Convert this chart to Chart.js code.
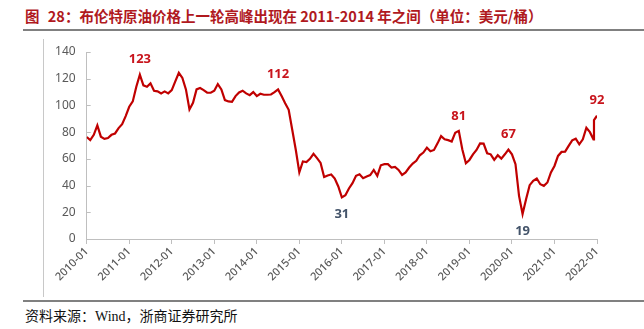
<!DOCTYPE html>
<html>
<head>
<meta charset="utf-8">
<script src="https://cdn.jsdelivr.net/npm/chart.js@4/dist/chart.umd.min.js"></script>
<style>
  body { margin: 0; background: #fff; }
  #wrap { position: relative; width: 644px; height: 329px; overflow: hidden; }
  #title { position: absolute; left: 25px; top: 5px; font: bold 14.5px "Noto Sans CJK SC", sans-serif; color: #b0191e; white-space: nowrap; }
  #title span { margin-right: 5px; }
  .hline { position: absolute; left: 23px; width: 621px; height: 2px; background: #808080; }
  #vline { position: absolute; left: 43px; top: 39px; width: 1px; height: 258px; background: #c8c8c8; }
  #source { position: absolute; left: 25px; top: 305px; font: 14px "Liberation Serif", "Noto Sans CJK SC", serif; color: #111; white-space: nowrap; }
  canvas { position: absolute; left: 0; top: 0; }
</style>
</head>
<body>
<div id="wrap">
  <div id="title"><span>图</span> 28：布伦特原油价格上一轮高峰出现在 2011-2014 年之间（单位：美元/桶）</div>
  <div class="hline" style="top:29px"></div>
  <div id="vline"></div>
  <div class="hline" style="top:300px"></div>
  <div id="source">资料来源：Wind，浙商证券研究所</div>
  <canvas id="brentChart" width="644" height="329"></canvas>
</div>
<script>
// 布伦特原油月度价格，2010-01 到 2022-01
const brentPrices = [
  76.4, 74, 78, 85, 76.6, 75, 75.6, 78, 79, 83, 86, 92,
  99, 103, 114, 123, 115, 114, 116.5, 111, 110.5, 109, 110.5, 109,
  111.5, 118, 124.4, 120.6, 112, 97, 102, 112, 113, 111.5, 109.5, 109.5,
  111, 116, 112, 104, 103, 102.7, 107, 109.7, 111, 109, 107.7, 110,
  107, 108.7, 108, 108, 108.2, 110, 112, 107, 101.7, 96.7, 81.8, 66.8,
  49.9, 58, 57.6, 60, 63.8, 60.6, 57, 46.4, 47.6, 48.3, 45.3, 39.3,
  31.2, 32.8, 37.8, 41.8, 47.3, 48.5, 45.5, 46.8, 47.8, 51.7, 47.3, 55.2,
  56, 56, 53.5, 54, 51.7, 48, 49.8, 53.5, 56.5, 58.5, 62.7, 64.7,
  68.4, 65.7, 66.7, 71.6, 77, 74.6, 74, 73, 79.6, 81, 67, 56.7,
  59.2, 63.4, 66.7, 71.6, 71.4, 64.2, 63.4, 59.2, 62.7, 60.2, 63.4, 67,
  63.4, 56, 32.3, 18.7, 29.9, 40.3, 43.5, 45.3, 41, 39.8, 42.3, 49.8,
  54.7, 62.2, 65.2, 65.4, 69.7, 73.9, 75.1, 70.9, 74.6, 83.3, 80, 74.6,
  92.3
];
// 2021 年 12 月底的快速拉升（月内的一个额外点）
const lateMonth = [143.15];
const latePrice = [89];

const tickLabels = ['2010-01', '2011-01', '2012-01', '2013-01', '2014-01', '2015-01', '2016-01',
  '2017-01', '2018-01', '2019-01', '2020-01', '2021-01', '2022-01'];
const yTicks = [0, 20, 40, 60, 80, 100, 120, 140];

// 标注的高点 / 低点（月份序号）
const peakIdx = [15, 54, 105, 119, 144];
const troughIdx = [72, 123];

const points = brentPrices.map((v, i) => ({ x: i, y: v }));
points.splice(144, 0, { x: lateMonth[0], y: latePrice[0] });

const labelPlugin = {
  id: 'peakLabels',
  afterDatasetsDraw(chart) {
    const ctx = chart.ctx;
    const xs = chart.scales.x, ys = chart.scales.y;
    ctx.save();
    ctx.font = 'bold 13px "Noto Sans", sans-serif';
    ctx.textAlign = 'center';
    ctx.textBaseline = 'middle';
    peakIdx.forEach(i => {
      ctx.fillStyle = '#c8141c';
      ctx.fillText(Math.round(brentPrices[i]), xs.getPixelForValue(i), ys.getPixelForValue(brentPrices[i]) - 15);
    });
    troughIdx.forEach(i => {
      ctx.fillStyle = '#44546a';
      ctx.fillText(Math.round(brentPrices[i]), xs.getPixelForValue(i), ys.getPixelForValue(brentPrices[i]) + 17);
    });
    // 纵轴内侧的小刻度
    ctx.strokeStyle = '#bfbfbf';
    ctx.lineWidth = 1;
    yTicks.forEach(t => {
      const y = Math.round(ys.getPixelForValue(t)) + 0.5;
      ctx.beginPath();
      ctx.moveTo(xs.left, y);
      ctx.lineTo(xs.left + 4, y);
      ctx.stroke();
    });
    ctx.restore();
  }
};

new Chart(document.getElementById('brentChart').getContext('2d'), {
  type: 'line',
  data: {
    datasets: [{
      data: points,
      borderColor: '#c00000',
      borderWidth: 2.2,
      pointRadius: 0,
      tension: 0
    }]
  },
  options: {
    responsive: false,
    animation: false,
    layout: { padding: { left: 0, top: 52, right: 47, bottom: 30 } },
    plugins: { legend: { display: false }, tooltip: { enabled: false } },
    scales: {
      x: {
        type: 'linear',
        min: 0,
        max: 144,
        afterFit: s => { s.height = 60; },
        afterBuildTicks: s => { s.ticks = tickLabels.map((t, i) => ({ value: i * 12 })); },
        grid: { drawOnChartArea: false, drawTicks: true, tickLength: 5, color: '#bfbfbf' },
        border: { display: true, color: '#bfbfbf' },
        ticks: {
          autoSkip: false,
          maxRotation: 45,
          minRotation: 45,
          padding: 1,
          color: '#595959',
          font: { family: '"Noto Sans", sans-serif', size: 11, weight: '500' },
          callback: v => tickLabels[Math.round(v / 12)]
        }
      },
      y: {
        min: 0,
        max: 140,
        afterFit: s => { s.width = 86.7; },
        afterBuildTicks: s => { s.ticks = yTicks.map(v => ({ value: v })); },
        grid: { drawOnChartArea: false, drawTicks: false },
        border: { display: true, color: '#bfbfbf' },
        ticks: {
          padding: 11,
          color: '#595959',
          font: { family: '"Noto Sans", sans-serif', size: 12 }
        }
      }
    }
  },
  plugins: [labelPlugin]
});
</script>
</body>
</html>
